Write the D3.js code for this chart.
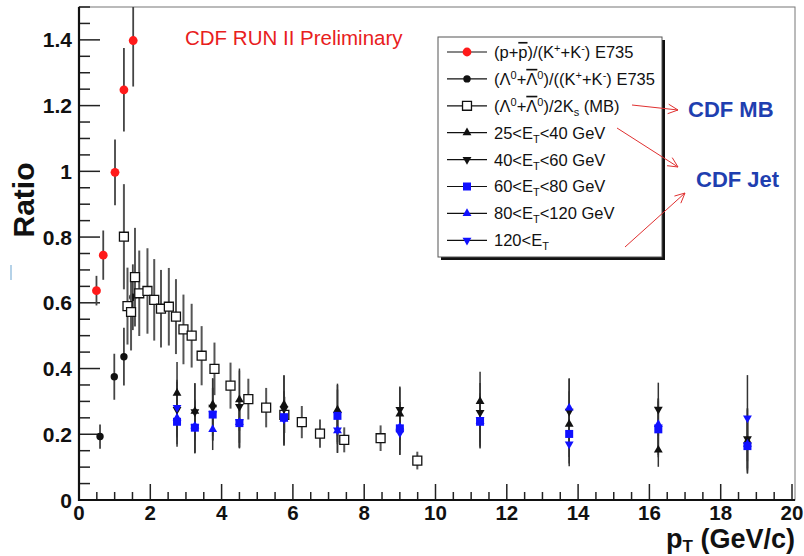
<!DOCTYPE html>
<html><head><meta charset="utf-8">
<script src="https://cdn.jsdelivr.net/npm/d3@7"></script>
<style>
html,body{margin:0;padding:0;background:#fff;}
svg{display:block;font-family:"Liberation Sans",Arial,sans-serif;}
</style></head>
<body>
<svg id="chart" width="804" height="556"></svg>
<script>
// ---------------- DATA ----------------
const xTicks = [0,2,4,6,8,10,12,14,16,18,20];
const yTicks = [0,0.2,0.4,0.6,0.8,1,1.2,1.4];

// (p+pbar)/(K+ + K-)  E735
const e735pPT    = [0.49, 0.68, 1.01, 1.26, 1.52];
const e735pRatio = [0.637, 0.745, 0.997, 1.248, 1.398];
const e735pErr   = [0.045, 0.075, 0.10, 0.127, 0.14];

// (Lambda+Lambdabar)/(K+ + K-)  E735
const e735LPT    = [0.59, 0.99, 1.26, 1.51];
const e735LRatio = [0.193, 0.375, 0.436, 0.617];
const e735LErr   = [0.037, 0.07, 0.088, 0.10];

// (Lambda+Lambdabar)/2Ks  CDF MB
const mbPT    = [1.26,1.36,1.46,1.57,1.69,1.92,2.11,2.30,2.52,2.72,2.93,3.16,3.44,3.80,4.25,4.75,5.25,5.76,6.25,6.76,7.44,8.46,9.49];
const mbRatio = [0.801,0.59,0.572,0.678,0.629,0.636,0.609,0.582,0.588,0.558,0.519,0.50,0.439,0.399,0.348,0.307,0.281,0.259,0.237,0.202,0.183,0.188,0.12];
const mbErr   = [0.16,0.117,0.117,0.15,0.13,0.13,0.124,0.118,0.118,0.114,0.106,0.097,0.09,0.08,0.07,0.062,0.06,0.055,0.049,0.043,0.038,0.039,0.027];

// CDF Jet samples
const jetPT = [2.75,3.25,3.75,4.5,5.75,7.25,9.0,11.25,13.75,16.25,18.75];
const et25to40     = [0.325,0.27,0.29,0.305,0.29,0.274,0.262,0.30,0.231,0.152,0.18];
const et25to40Err  = [0.095,0.085,0.08,0.095,0.09,0.08,0.08,0.09,0.10,0.051,0.10];
const et40to60     = [0.275,0.268,0.282,0.284,0.277,0.26,0.275,0.266,0.27,0.276,0.186];
const et40to60Err  = [0.085,0.087,0.088,0.11,0.1,0.09,0.07,0.09,0.10,0.081,0.09];
const et60to80     = [0.238,0.22,0.26,0.234,0.252,0.256,0.218,0.238,0.201,0.215,0.164];
const et60to80Err  = [0.076,0.078,0.08,0.077,0.08,0.08,0.08,0.081,0.09,0.085,0.081];
const et80to120    = [0.25,0.225,0.215,0.236,0.246,0.211,0.222,0.24,0.28,0.23,0.17];
const et80to120Err = [0.08,0.08,0.063,0.075,0.08,0.067,0.07,0.08,0.09,0.08,0.08];
const et120up      = [0.281,0.222,0.262,0.238,0.246,0.213,0.204,0.245,0.17,0.222,0.249];
const et120upErr   = [0.085,0.08,0.08,0.08,0.08,0.07,0.067,0.08,0.067,0.085,0.131];

// legend labels as text segments: [text, kind]
const legendLabels = [
  [["(p+","n"],["p","o"],[")/(K","n"],["+","sup"],["+K","n"],["-","sup"],[") E735","n"]],
  [["(Λ","n"],["0","sup"],["+","n"],["Λ","o"],["0","sup"],[")/((K","n"],["+","sup"],["+K","n"],["-","sup"],[") E735","n"]],
  [["(Λ","n"],["0","sup"],["+","n"],["Λ","o"],["0","sup"],[")/2K","n"],["s","sub"],[" (MB)","n"]],
  [["25<E","n"],["T","sub"],["<40 GeV","n"]],
  [["40<E","n"],["T","sub"],["<60 GeV","n"]],
  [["60<E","n"],["T","sub"],["<80 GeV","n"]],
  [["80<E","n"],["T","sub"],["<120 GeV","n"]],
  [["120<E","n"],["T","sub"]]
];

// ---------------- CHART ----------------
const svg = d3.select("#chart");
const x = d3.scaleLinear().domain([0,20]).range([79,792]);
const y = d3.scaleLinear().domain([0,1.5]).range([500,7]);

const RED = "#ff1a1a", BLUE = "#1010ff";

// frame
svg.append("rect").attr("x",79).attr("y",7).attr("width",716).attr("height",493)
  .attr("fill","#fff").attr("stroke","#777").attr("stroke-width",1);

// stray mark at left
svg.append("line").attr("x1",11).attr("x2",11).attr("y1",265).attr("y2",280)
  .attr("stroke","#9cc3e0").attr("stroke-width",1.5);

// y axis ticks (inward)
const yMinor = d3.range(0,1.5001,0.05);
const yMajorLen = 21, yMinorLen = 11;
svg.append("g").selectAll("line").data(yMinor).join("line")
  .attr("x1",x(0)).attr("x2",(d)=> x(0) + (Math.abs(d/0.2 - Math.round(d/0.2))<1e-6 ? yMajorLen : yMinorLen))
  .attr("y1",d=>y(d)).attr("y2",d=>y(d)).attr("stroke","#222").attr("stroke-width",1.5);
// x axis ticks (inward)
const xMinor = d3.range(0,20.001,0.5);
svg.append("g").selectAll("line").data(xMinor).join("line")
  .attr("x1",d=>x(d)).attr("x2",d=>x(d))
  .attr("y1",y(0)).attr("y2",d=> y(0) - (Math.abs(d/2 - Math.round(d/2))<1e-6 ? 16 : 8))
  .attr("stroke","#222").attr("stroke-width",1.5);

// axis lines
svg.append("line").attr("x1",x(0)).attr("x2",x(0)).attr("y1",7).attr("y2",y(0)+1)
  .attr("stroke","#111").attr("stroke-width",2.2);
svg.append("line").attr("x1",x(0)-1).attr("x2",795).attr("y1",y(0)).attr("y2",y(0))
  .attr("stroke","#111").attr("stroke-width",2.2);

// tick labels
svg.append("g").selectAll("text").data(yTicks).join("text")
  .attr("x",72).attr("y",d=>y(d)).attr("dy","0.36em").attr("text-anchor","end")
  .attr("font-size",21).attr("font-weight","bold").attr("fill","#111")
  .text(d=> d===0 ? "0" : (d===1 ? "1" : d3.format(".1f")(d)));
svg.append("g").selectAll("text").data(xTicks).join("text")
  .attr("x",d=>x(d)).attr("y",520).attr("text-anchor","middle")
  .attr("font-size",20.5).attr("font-weight","bold").attr("fill","#111")
  .text(d=>d);

// axis titles
svg.append("text").attr("transform","translate(34,200) rotate(-90)")
  .attr("text-anchor","middle").attr("font-size",30).attr("font-weight","bold").attr("fill","#111")
  .text("Ratio");
const xt = svg.append("text").attr("x",795).attr("y",548).attr("text-anchor","end")
  .attr("font-size",27).attr("font-weight","bold").attr("fill","#111");
xt.append("tspan").text("p");
xt.append("tspan").attr("font-size",17).attr("dy",4).text("T");
xt.append("tspan").attr("dy",-4).text(" (GeV/c)");

// ---------- helpers ----------
function errBars(g, xs, ys, es, color, width){
  g.append("g").selectAll("line").data(xs.map((v,i)=>({x:v,y:ys[i],e:es[i]}))).join("line")
    .attr("x1",d=>x(d.x)).attr("x2",d=>x(d.x))
    .attr("y1",d=>Math.max(y(d.y+d.e),7)).attr("y2",d=>y(d.y-d.e))
    .attr("stroke",color).attr("stroke-width",width);
}
const triUp = (s)=> d3.symbol().type(d3.symbolTriangle).size(s)();
function markers(g, xs, ys, kind, color){
  const data = xs.map((v,i)=>({x:v,y:ys[i]}));
  const sel = g.append("g").selectAll("path").data(data).join("path");
  drawMarker(sel, kind, color, d=>x(d.x), d=>y(d.y));
}
function drawMarker(sel, kind, color, fx, fy){
  if(kind==="circle"){
    sel.attr("d",d3.symbol().type(d3.symbolCircle).size(Math.PI*4.4*4.4)())
       .attr("transform",d=>`translate(${fx(d)},${fy(d)})`).attr("fill",color);
  } else if(kind==="circleS"){
    sel.attr("d",d3.symbol().type(d3.symbolCircle).size(Math.PI*3.7*3.7)())
       .attr("transform",d=>`translate(${fx(d)},${fy(d)})`).attr("fill",color);
  } else if(kind==="open"){
    sel.attr("d",d3.symbol().type(d3.symbolSquare).size(80)())
       .attr("transform",d=>`translate(${fx(d)},${fy(d)})`).attr("fill","#fff")
       .attr("stroke","#111").attr("stroke-width",1.3);
  } else if(kind==="square"){
    sel.attr("d",d3.symbol().type(d3.symbolSquare).size(64)())
       .attr("transform",d=>`translate(${fx(d)},${fy(d)})`).attr("fill",color);
  } else if(kind==="up"){
    sel.attr("d",triUp(34))
       .attr("transform",d=>`translate(${fx(d)},${fy(d)})`).attr("fill",color);
  } else if(kind==="down"){
    sel.attr("d",triUp(34))
       .attr("transform",d=>`translate(${fx(d)},${fy(d)}) rotate(180)`).attr("fill",color);
  }
}

const plot = svg.append("g");
// E735 p/K
errBars(plot, e735pPT, e735pRatio, e735pErr, "#444", 1.8);
markers(plot, e735pPT, e735pRatio, "circle", RED);
// E735 Lambda/K
errBars(plot, e735LPT, e735LRatio, e735LErr, "#444", 1.8);
markers(plot, e735LPT, e735LRatio, "circleS", "#111");
// CDF MB
errBars(plot, mbPT, mbRatio, mbErr, "#555", 2);
markers(plot, mbPT, mbRatio, "open", "#111");
// Jets
const jets = [
  {v:et25to40, e:et25to40Err, kind:"up", c:"#111"},
  {v:et40to60, e:et40to60Err, kind:"down", c:"#111"},
  {v:et60to80, e:et60to80Err, kind:"square", c:BLUE},
  {v:et80to120, e:et80to120Err, kind:"up", c:BLUE},
  {v:et120up, e:et120upErr, kind:"down", c:BLUE}
];
jets.forEach(s=> errBars(plot, jetPT, s.v, s.e, "#333", 1.5));
jets.forEach(s=> markers(plot, jetPT, s.v, s.kind, s.c));

// ---------- legend ----------
const lg = svg.append("g");
lg.append("rect").attr("x",441).attr("y",40).attr("width",224).attr("height",220).attr("fill","#111");
lg.append("rect").attr("x",438).attr("y",37).attr("width",224).attr("height",220)
  .attr("fill","#fff").attr("stroke","#555").attr("stroke-width",1);
const legendKinds = [["circle",RED],["circleS","#111"],["open","#111"],["up","#111"],["down","#111"],["square",BLUE],["up",BLUE],["down",BLUE]];
const rowY = i => 52 + i*26.9;
legendKinds.forEach((k,i)=>{
  lg.append("line").attr("x1",447).attr("x2",487).attr("y1",rowY(i)).attr("y2",rowY(i))
    .attr("stroke","#111").attr("stroke-width",1.2);
  const m = lg.append("path").datum({});
  drawMarker(m, k[0], k[1], ()=>467, ()=>rowY(i));
  const t = lg.append("text").attr("x",494).attr("y",rowY(i)).attr("dy","0.36em")
    .attr("font-size",16.5).attr("fill","#111");
  let shift = 0;
  legendLabels[i].forEach(([txt,kind])=>{
    const ts = t.append("tspan").text(txt);
    let target = 0;
    if(kind==="sup"){ target = -6; ts.attr("font-size",11); }
    else if(kind==="sub"){ target = 4; ts.attr("font-size",11); }
    if(target!==shift){ ts.attr("dy", target-shift); shift = target; }
    if(kind==="o"){ ts.style("text-decoration","overline"); }
  });
});

// ---------- annotations ----------
svg.append("text").attr("x",185).attr("y",45).attr("font-size",20.5).attr("fill","#e8201c")
  .text("CDF RUN II Preliminary");
svg.append("text").attr("x",688).attr("y",117).attr("font-size",22).attr("font-weight","bold")
  .attr("fill","#1f3fb0").text("CDF MB");
svg.append("text").attr("x",696).attr("y",187).attr("font-size",22).attr("font-weight","bold")
  .attr("fill","#1f3fb0").text("CDF Jet");

const arrows = [
  [632,105,678,110],
  [617,128,678,167],
  [625,247,685,193]
];
arrows.forEach(([x1,y1,x2,y2])=>{
  svg.append("line").attr("x1",x1).attr("y1",y1).attr("x2",x2).attr("y2",y2)
    .attr("stroke","#e03030").attr("stroke-width",1);
  const a = Math.atan2(y2-y1,x2-x1), L = 11, w = 0.45;
  const p1 = [x2 - L*Math.cos(a-w), y2 - L*Math.sin(a-w)];
  const p2 = [x2 - L*Math.cos(a+w), y2 - L*Math.sin(a+w)];
  svg.append("path").attr("d",`M${p1[0]},${p1[1]}L${x2},${y2}L${p2[0]},${p2[1]}`)
    .attr("fill","none").attr("stroke","#e03030").attr("stroke-width",1);
});
</script>
</body></html>
